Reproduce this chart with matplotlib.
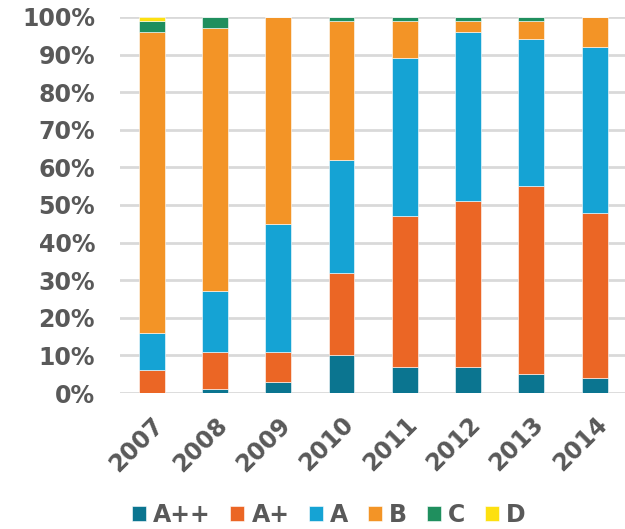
import matplotlib.pyplot as plt
import numpy as np
from matplotlib.ticker import PercentFormatter

years = ['2007', '2008', '2009', '2010', '2011', '2012', '2013', '2014']
classes = ['A++', 'A+', 'A', 'B', 'C', 'D']

# share of each class per year, in percent
a_pp = [0, 1, 3, 10, 7, 7, 5, 4]
a_p = [6, 10, 8, 22, 40, 44, 50, 44]
a = [10, 16, 34, 30, 42, 45, 39, 44]
b = [80, 70, 55, 37, 10, 3, 5, 8]
c = [3, 3, 0, 1, 1, 1, 1, 0]
d = [1, 0, 0, 0, 0, 0, 0, 0]

colors = ['#0b7590', '#eb6625', '#15a3d4', '#f39426', '#1f8f5e', '#fde010']
grey = '#595959'

fig = plt.figure(figsize=(6.25, 5.29), dpi=100)
ax = fig.add_axes([0.192, 0.257, 0.81, 0.711])

x = np.arange(len(years))
bottom = np.zeros(len(years))
for name, vals, col in zip(classes, [a_pp, a_p, a, b, c, d], colors):
    vals = np.array(vals, dtype=float)
    ax.bar(x, vals, 0.41, bottom=bottom, color=col, label=name,
           edgecolor='white', linewidth=0.4, zorder=3)
    bottom += vals

ax.set_ylim(0, 100)
ax.set_xlim(-0.5, len(years) - 0.5)
ax.set_yticks(np.arange(0, 101, 10))
ax.yaxis.set_major_formatter(PercentFormatter(decimals=0))
ax.grid(axis='y', color='#d9d9d9', linewidth=2, zorder=0)
for s in ax.spines.values():
    s.set_visible(False)
ax.tick_params(length=0, colors=grey, labelsize=17)
ax.tick_params(axis='y', pad=18)
ax.tick_params(axis='x', pad=14)
ax.set_xticks(x)
ax.set_xticklabels(years, rotation=45, ha='right', rotation_mode='anchor')
for lbl in ax.get_xticklabels() + ax.get_yticklabels():
    lbl.set_fontweight('bold')

leg = fig.legend(loc='center', bbox_to_anchor=(0.526, 0.026), ncol=6,
                 frameon=False, handlelength=0.6, handleheight=0.6,
                 handletextpad=0.3, columnspacing=0.83,
                 prop={'weight': 'bold', 'size': 17})
for t in leg.get_texts():
    t.set_color(grey)

fig.savefig('out.png', dpi=100)
